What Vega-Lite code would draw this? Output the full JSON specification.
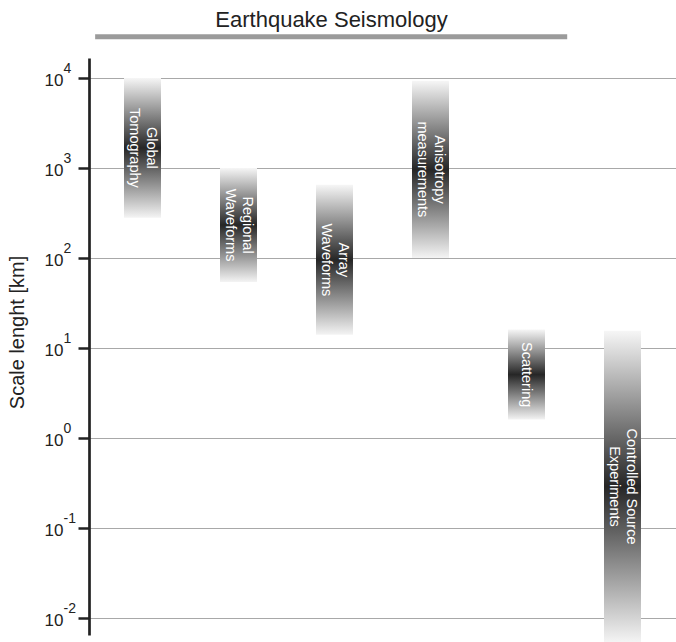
{
  "$schema": "https://vega.github.io/schema/vega-lite/v6.json",
  "width": 587,
  "height": 577,
  "autosize": {"type": "none"},
  "padding": {"left": 89, "top": 58, "right": 0, "bottom": 7},
  "background": "white",
  "config": {"view": {"stroke": null}, "font": "Liberation Sans"},
  "datasets": {
    "methods": [
      {"method": "Global Tomography", "label": "Global\nTomography", "lo": 280, "hi": 10000},
      {"method": "Regional Waveforms", "label": "Regional\nWaveforms", "lo": 54, "hi": 1000},
      {"method": "Array Waveforms", "label": "Array\nWaveforms", "lo": 14, "hi": 650},
      {"method": "Anisotropy measurements", "label": "Anisotropy\nmeasurements", "lo": 100, "hi": 9300},
      {"method": "Scattering", "label": "Scattering", "lo": 1.6, "hi": 16},
      {"method": "Controlled Source Experiments", "label": "Controlled Source\nExperiments", "lo": 0.0054, "hi": 15.5}
    ],
    "groups": [
      {"group": "Earthquake Seismology", "first": "Global Tomography", "last": "Scattering"}
    ]
  },
  "layer": [
    {
      "data": {"name": "methods"},
      "mark": {
        "type": "bar",
        "fill": {
          "gradient": "linear",
          "x1": 0, "y1": 0, "x2": 0, "y2": 1,
          "stops": [
            {"offset": 0, "color": "#f6f6f6"},
            {"offset": 0.5, "color": "#262626"},
            {"offset": 1, "color": "#f4f4f4"}
          ]
        }
      },
      "encoding": {
        "x": {
          "field": "method", "type": "nominal",
          "scale": {
            "domain": ["Global Tomography", "Regional Waveforms", "Array Waveforms", "Anisotropy measurements", "Scattering", "Controlled Source Experiments"],
            "paddingInner": 0.6146, "paddingOuter": 0.3646
          },
          "axis": null
        },
        "y": {
          "field": "lo", "type": "quantitative",
          "scale": {"type": "log", "domain": [0.006471, 16680]},
          "axis": {
            "orient": "left",
            "values": [0.01, 0.1, 1, 10, 100, 1000, 10000],
            "labelExpr": "'10'",
            "labelFont": "Liberation Sans",
            "labelFontSize": 17,
            "labelColor": "#222222",
            "labelPadding": 15,
            "labelBaseline": "alphabetic",
            "labelOffset": 8,
            "labelFlush": false,
            "labelOverlap": false,
            "ticks": true,
            "tickSize": 11,
            "tickWidth": 2.5,
            "tickColor": "#222222",
            "domain": true,
            "domainColor": "#222222",
            "domainWidth": 2.7,
            "grid": true,
            "gridColor": "#a8a8a8",
            "gridWidth": 1.2,
            "title": "Scale lenght [km]",
            "titleFont": "Liberation Sans",
            "titleFontSize": 20,
            "titleFontWeight": "normal",
            "titleColor": "#222222",
            "titleAngle": -90,
            "titleAlign": "center",
            "titleBaseline": "alphabetic",
            "titleX": -66,
            "titleY": 274
          }
        },
        "y2": {"field": "hi"}
      }
    },
    {
      "data": {"name": "methods"},
      "transform": [
        {"filter": "indexof(datum.label, '\\n') >= 0"},
        {"calculate": "sqrt(datum.lo * datum.hi)", "as": "mid"}
      ],
      "mark": {
        "type": "text",
        "angle": 90,
        "align": "center",
        "baseline": "middle",
        "dy": -8.5,
        "color": "white",
        "font": "Liberation Sans",
        "fontSize": 14.5,
        "lineHeight": 17,
        "lineBreak": "\n"
      },
      "encoding": {
        "x": {
          "field": "method", "type": "nominal",
          "scale": {
            "domain": ["Global Tomography", "Regional Waveforms", "Array Waveforms", "Anisotropy measurements", "Scattering", "Controlled Source Experiments"],
            "paddingInner": 0.6146, "paddingOuter": 0.3646
          },
          "axis": null
        },
        "y": {
          "field": "mid", "type": "quantitative",
          "scale": {"type": "log", "domain": [0.006471, 16680]},
          "axis": {
            "orient": "left",
            "title": null,
            "values": [0.01, 0.1, 1, 10, 100, 1000, 10000],
            "labelExpr": "round(log(datum.value) / LN10)",
            "labelFont": "Liberation Sans",
            "labelFontSize": 14,
            "labelColor": "#222222",
            "labelAlign": "left",
            "labelBaseline": "alphabetic",
            "labelPadding": 26,
            "labelOffset": -5,
            "labelFlush": false,
            "labelOverlap": false,
            "ticks": false,
            "tickSize": 0,
            "domain": false,
            "grid": false
          }
        },
        "text": {"field": "label"}
      }
    },
    {
      "data": {"name": "methods"},
      "transform": [
        {"filter": "indexof(datum.label, '\\n') < 0"},
        {"calculate": "sqrt(datum.lo * datum.hi)", "as": "mid"}
      ],
      "mark": {
        "type": "text",
        "angle": 90,
        "align": "center",
        "baseline": "middle",
        "color": "white",
        "font": "Liberation Sans",
        "fontSize": 14.5
      },
      "encoding": {
        "x": {
          "field": "method", "type": "nominal",
          "scale": {
            "domain": ["Global Tomography", "Regional Waveforms", "Array Waveforms", "Anisotropy measurements", "Scattering", "Controlled Source Experiments"],
            "paddingInner": 0.6146, "paddingOuter": 0.3646
          },
          "axis": null
        },
        "y": {
          "field": "mid", "type": "quantitative",
          "scale": {"type": "log", "domain": [0.006471, 16680]},
          "axis": null
        },
        "text": {"field": "label"}
      }
    },
    {
      "data": {"name": "groups"},
      "mark": {"type": "rule", "strokeWidth": 5, "color": "#9b9b9b"},
      "encoding": {
        "x": {
          "field": "first", "type": "nominal", "bandPosition": -0.78,
          "scale": {
            "domain": ["Global Tomography", "Regional Waveforms", "Array Waveforms", "Anisotropy measurements", "Scattering", "Controlled Source Experiments"],
            "paddingInner": 0.6146, "paddingOuter": 0.3646
          },
          "axis": null
        },
        "x2": {"field": "last", "bandPosition": 1.6},
        "y": {
          "datum": 28774, "type": "quantitative",
          "scale": {"type": "log", "domain": [0.006471, 16680]},
          "axis": null
        }
      }
    },
    {
      "data": {"name": "groups"},
      "mark": {
        "type": "text",
        "font": "Liberation Sans",
        "fontSize": 22,
        "color": "#222222",
        "align": "center",
        "baseline": "alphabetic",
        "dx": -3
      },
      "encoding": {
        "x": {
          "datum": "Array Waveforms", "type": "nominal",
          "scale": {
            "domain": ["Global Tomography", "Regional Waveforms", "Array Waveforms", "Anisotropy measurements", "Scattering", "Controlled Source Experiments"],
            "paddingInner": 0.6146, "paddingOuter": 0.3646
          },
          "axis": null
        },
        "y": {
          "datum": 37154, "type": "quantitative",
          "scale": {"type": "log", "domain": [0.006471, 16680]},
          "axis": null
        },
        "text": {"field": "group"}
      }
    }
  ],
  "resolve": {"axis": {"y": "independent"}}
}
